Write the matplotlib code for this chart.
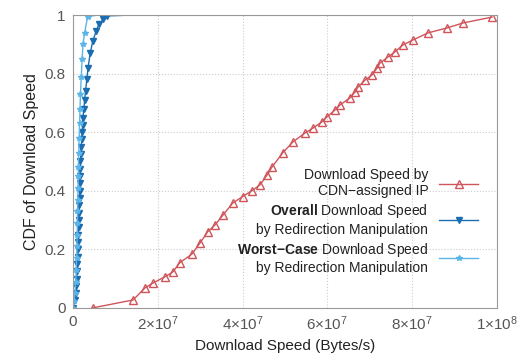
import matplotlib.pyplot as plt
import matplotlib as mpl

mpl.rcParams["font.family"] = ["Liberation Sans", "DejaVu Sans"]
mpl.rcParams["mathtext.fontset"] = "custom"
mpl.rcParams["mathtext.rm"] = "Liberation Sans"
mpl.rcParams["mathtext.bf"] = "Liberation Sans:bold"
mpl.rcParams["mathtext.it"] = "Liberation Sans:italic"

# download speed in units of 1e7 bytes/s, CDF values
cdn_x = [0.47, 1.42, 1.70, 1.89, 2.17, 2.36, 2.52, 2.81, 3.00, 3.18, 3.35, 3.54,
         3.77, 4.00, 4.22, 4.41, 4.58, 4.69, 4.95, 5.19, 5.47, 5.66, 5.87, 5.99,
         6.18, 6.30, 6.53, 6.65, 6.72, 6.89, 7.05, 7.17, 7.24, 7.43, 7.59, 7.78,
         8.02, 8.37, 8.82, 9.20, 9.88]
cdn_y = [0.000, 0.027, 0.068, 0.085, 0.106, 0.123, 0.154, 0.184, 0.222, 0.260,
         0.283, 0.317, 0.358, 0.380, 0.400, 0.420, 0.454, 0.480, 0.530, 0.567,
         0.597, 0.614, 0.635, 0.652, 0.676, 0.693, 0.717, 0.737, 0.754, 0.778,
         0.795, 0.819, 0.836, 0.857, 0.874, 0.898, 0.915, 0.939, 0.956, 0.973,
         0.993]

overall_x = [0.00, 0.05, 0.07, 0.08, 0.09, 0.10, 0.11, 0.12, 0.12, 0.13, 0.13,
             0.14, 0.14, 0.15, 0.15, 0.16, 0.16, 0.17, 0.17, 0.18, 0.18, 0.19,
             0.20, 0.21, 0.22, 0.23, 0.24, 0.26, 0.28, 0.30, 0.33, 0.36, 0.41,
             0.47, 0.55, 0.62, 0.72, 0.80, 1.20, 1.70]
overall_y = [0.000, 0.027, 0.050, 0.075, 0.100, 0.125, 0.150, 0.175, 0.200, 0.225,
             0.250, 0.275, 0.300, 0.325, 0.350, 0.375, 0.400, 0.425, 0.450, 0.475,
             0.500, 0.525, 0.550, 0.575, 0.600, 0.625, 0.650, 0.680, 0.710, 0.740,
             0.780, 0.820, 0.870, 0.910, 0.945, 0.970, 0.985, 0.997, 0.999, 1.000]

worst_x = [0.00, 0.03, 0.05, 0.07, 0.08, 0.09, 0.10, 0.10, 0.11, 0.11, 0.12,
           0.12, 0.13, 0.13, 0.14, 0.15, 0.16, 0.17, 0.18, 0.20, 0.22, 0.24,
           0.28, 0.35, 0.60, 0.90]
worst_y = [0.000, 0.025, 0.050, 0.090, 0.130, 0.170, 0.210, 0.250, 0.290, 0.330,
           0.370, 0.410, 0.450, 0.480, 0.530, 0.580, 0.630, 0.680, 0.730, 0.790,
           0.850, 0.900, 0.940, 0.995, 1.000, 1.000]

labels = ["Download Speed by\nCDN\u2212assigned IP",
          r"$\bf{Overall}$ Download Speed" + "\nby Redirection Manipulation",
          r"$\bf{Worst{-}Case}$ Download Speed" + "\nby Redirection Manipulation"]

SCALE = 1e7

fig = plt.figure(figsize=(5.2, 3.58), dpi=100)
ax = fig.add_axes([0.140, 0.140, 0.816, 0.818])

ax.plot([v * SCALE for v in cdn_x], cdn_y, color="#d0555a", lw=1.0,
        marker="^", ms=5.5, mfc="none", mew=1.0, label=labels[0])
ax.plot([v * SCALE for v in overall_x], overall_y, color="#1a6db0", lw=1.0,
        marker="v", ms=4, markevery=slice(0, -2), label=labels[1])
ax.plot([v * SCALE for v in worst_x], worst_y, color="#5bb5e8", lw=1.0,
        marker="*", ms=4, markevery=slice(0, -2), label=labels[2])

ax.set_xlim(0, 1e8)
ax.set_ylim(0, 1)
ax.set_xticks([0, 2e7, 4e7, 6e7, 8e7, 1e8])
ax.set_xticklabels(["0", r"$2{\times}10^{7}$", r"$4{\times}10^{7}$",
                    r"$6{\times}10^{7}$", r"$8{\times}10^{7}$", r"$1{\times}10^{8}$"])
ax.set_yticks([0, 0.2, 0.4, 0.6, 0.8, 1.0])
ax.set_yticklabels(["0", "0.2", "0.4", "0.6", "0.8", "1"])
ax.tick_params(length=0, labelsize=11, colors="#555555", pad=5)

ax.grid(True, linestyle=":", linewidth=0.8, color="#cccccc")
for s in ax.spines.values():
    s.set_color("#999999")

ax.set_xlabel("Download Speed (Bytes/s)", fontsize=11, color="#222222")
ax.set_ylabel("CDF of Download Speed", fontsize=11.5, color="#222222")

ax.legend(loc="lower right", bbox_to_anchor=(0.985, 0.07), frameon=False,
          markerfirst=False, fontsize=10, handlelength=2.8, labelspacing=0.3,
          handletextpad=0.8, alignment="right")
leg = ax.get_legend()
for t in leg.get_texts():
    t.set_ha("right")
    t.set_color("#222222")

fig.savefig("out.png", dpi=100)
